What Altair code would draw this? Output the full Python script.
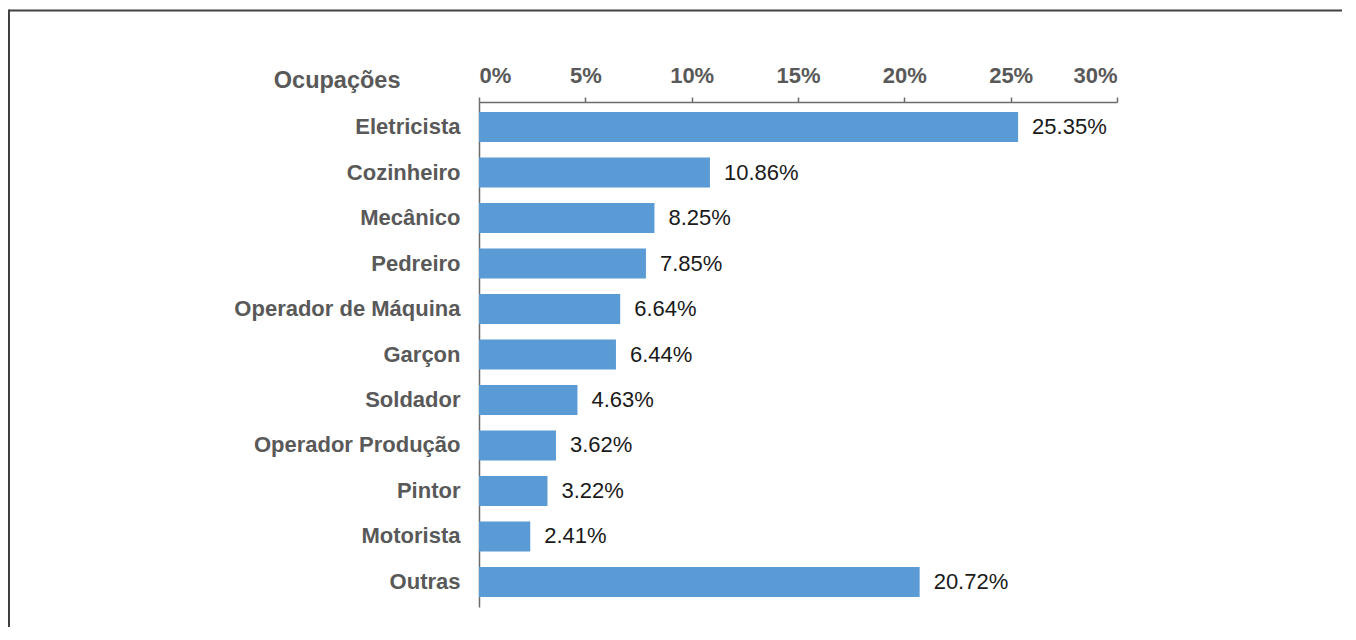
import altair as alt
import pandas as pd

categories = ["Eletricista", "Cozinheiro", "Mecânico", "Pedreiro", "Operador de Máquina",
              "Garçon", "Soldador", "Operador Produção", "Pintor", "Motorista", "Outras"]
values = [25.35, 10.86, 8.25, 7.85, 6.64, 6.44, 4.63, 3.62, 3.22, 2.41, 20.72]
x_ticks = [0, 5, 10, 15, 20, 25, 30]

df = pd.DataFrame({"cat": categories, "val": values})
df["label"] = [f"{v:.2f}%" for v in values]

FONT = "Liberation Sans"
GRAY = "#595959"

y_enc = alt.Y("cat:N", sort=categories,
              scale=alt.Scale(paddingInner=0.34, paddingOuter=0.22),
              axis=alt.Axis(title="Ocupações", titleAngle=0, titleAlign="right",
                            titleBaseline="middle", titleX=-79, titleY=-22,
                            titleFont=FONT, titleFontSize=23.5, titleFontWeight="bold",
                            titleColor=GRAY, labelFont=FONT, labelFontSize=22,
                            labelFontWeight="bold", labelColor=GRAY, labelPadding=19,
                            ticks=False, domainColor="#6b6b6b", domainWidth=1.5,
                            labelLimit=400))
x_scale = alt.Scale(domain=[0, 30], nice=False)

bars = alt.Chart(df).mark_bar(color="#5B9BD5").encode(
    x=alt.X("val:Q", scale=x_scale,
            axis=alt.Axis(orient="top", values=x_ticks, labelExpr="datum.value + '%'",
                          grid=False, title=None, labelFont=FONT, labelFontSize=22,
                          labelFontWeight="bold", labelColor=GRAY, tickSize=5,
                          tickColor="#6b6b6b", tickWidth=1.5, domainColor="#6b6b6b",
                          domainWidth=1.5, labelPadding=10)),
    y=y_enc,
)

text = alt.Chart(df).mark_text(align="left", baseline="middle", dx=14, font=FONT,
                               fontSize=22, color="#1a1a1a").encode(
    x=alt.X("val:Q", scale=x_scale),
    y=alt.Y("cat:N", sort=categories),
    text="label:N",
)

one = alt.Data(values=[{"a": 1}])
border_top = alt.Chart(one).mark_rule(color="#404040", strokeWidth=2).encode(
    x=alt.value(-470), x2=alt.value(863), y=alt.value(-91.5))
border_left = alt.Chart(one).mark_rule(color="#404040", strokeWidth=2).encode(
    x=alt.value(-470), y=alt.value(-92.5), y2=alt.value(525))

chart = alt.layer(bars, text, border_top, border_left).properties(
    width=638, height=505,
    autosize=alt.AutoSizeParams(type="none"),
    padding={"left": 471, "top": 94, "right": 225, "bottom": 20},
).configure_view(stroke=None)

chart.save("out.html", embed_options={"renderer": "svg", "actions": False})
